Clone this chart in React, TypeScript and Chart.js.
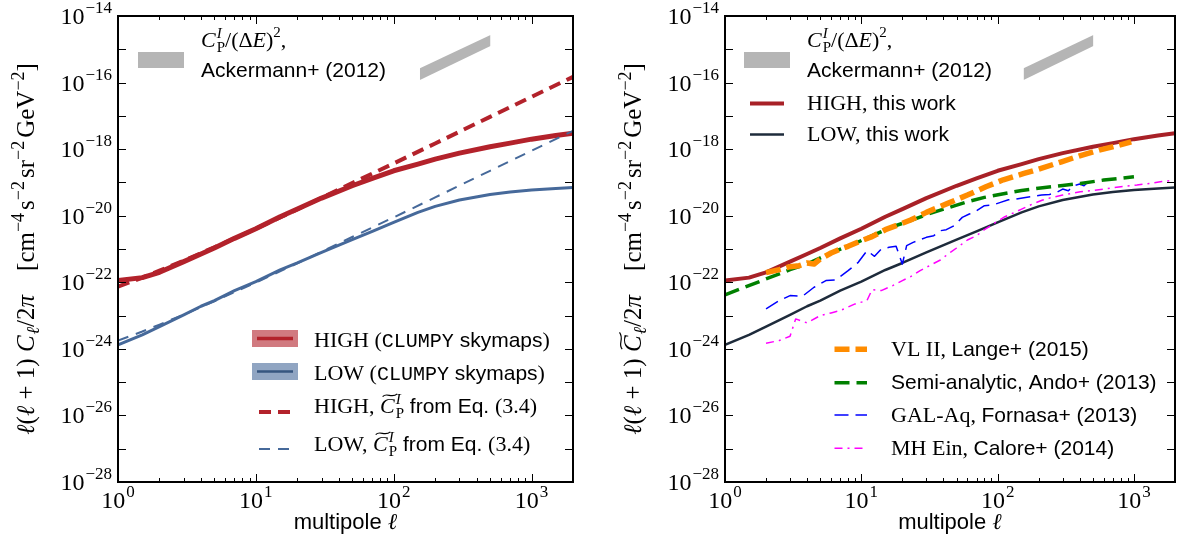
import React, { useEffect, useRef } from "react";
import { Chart, registerables } from "chart.js";

Chart.register(...registerables);

// ---------------- data (log10 of y) ----------------
const X_MIN = 1;
const X_MAX = 2000;
const Y_MIN = 1e-28;
const Y_MAX = 1e-14;
const X_LABEL_EXPONENTS = [0, 1, 2, 3];
const Y_LABEL_EXPONENTS = [-14, -16, -18, -20, -22, -24, -26, -28];

// CLUMPY skymap curves (HIGH / LOW)
const ELL_SKY = [1, 1.5, 2, 3, 4, 5, 7, 10, 15, 20, 30, 50, 70, 100, 150, 200, 300, 500, 700, 1000, 1500, 2000];
const HIGH_SKY_LOG10 = [-21.95, -21.86, -21.7, -21.38, -21.15, -20.97, -20.68, -20.39, -20.03, -19.8, -19.47, -19.1, -18.88, -18.65, -18.45, -18.3, -18.12, -17.93, -17.82, -17.7, -17.59, -17.52];
const LOW_SKY_LOG10 = [-23.88, -23.58, -23.33, -22.98, -22.72, -22.55, -22.25, -21.98, -21.63, -21.42, -21.1, -20.72, -20.47, -20.2, -19.9, -19.72, -19.53, -19.36, -19.29, -19.23, -19.18, -19.15];

// Poisson term from Eq. (3.4)
const ELL_POISSON = [1, 1.5, 2, 3, 5, 10, 20, 50, 100, 200, 500, 1000, 2000];
const HIGH_POISSON_LOG10 = [-22.13, -21.86, -21.65, -21.35, -20.95, -20.39, -19.81, -19.02, -18.43, -17.83, -17.03, -16.43, -15.83];
const LOW_POISSON_LOG10 = [-23.75, -23.48, -23.27, -22.97, -22.57, -22.01, -21.43, -20.64, -20.05, -19.45, -18.65, -18.05, -17.45];

// Ackermann+ (2012) band
const ELL_ACK = [155, 504];
const ACK_LOWER_LOG10 = [-15.92, -14.9];
const ACK_UPPER_LOG10 = [-15.57, -14.57];

// VL II, Lange+ (2015)
const ELL_VL2 = [2, 2.5, 3, 3.5, 4, 4.5, 5, 6, 7, 8, 10, 12, 15, 18, 23, 30, 43, 60, 82, 110, 156, 200, 294, 400, 556, 750, 955];
const VL2_LOG10 = [-21.71, -21.62, -21.53, -21.5, -21.42, -21.45, -21.3, -21.12, -21.0, -20.92, -20.75, -20.63, -20.42, -20.3, -20.13, -19.9, -19.63, -19.38, -19.13, -18.92, -18.73, -18.6, -18.38, -18.2, -18.03, -17.9, -17.78];

// Semi-analytic, Ando+ (2013)
const ELL_ANDO = [1, 2, 3, 4, 6, 9, 12, 17, 24, 32, 45, 60, 80, 113, 150, 214, 300, 404, 600, 1000];
const ANDO_LOG10 = [-22.38, -21.9, -21.62, -21.45, -21.12, -20.83, -20.6, -20.33, -20.12, -19.93, -19.74, -19.58, -19.45, -19.33, -19.24, -19.16, -19.09, -19.03, -18.93, -18.83];

// GAL-Aq, Fornasa+ (2013)
const ELL_GALAQ = [2, 2.5, 3, 3.7, 4.5, 5.5, 6.5, 8, 9.5, 11, 12.5, 14, 16, 18, 20, 21.5, 24, 27, 30, 34, 38, 42, 48, 55, 62, 70, 80, 92, 105, 120, 137, 160, 185, 210, 240, 270, 300, 330, 360, 400, 430, 470, 500];
const GALAQ_LOG10 = [-22.8, -22.55, -22.4, -22.42, -22.15, -21.95, -21.93, -21.65, -21.4, -21.05, -21.22, -21.0, -20.95, -20.92, -21.45, -20.9, -20.8, -20.72, -20.65, -20.6, -20.45, -20.42, -20.3, -20.05, -19.95, -19.85, -19.7, -19.68, -19.6, -19.52, -19.5, -19.45, -19.42, -19.38, -19.36, -19.3, -19.2, -19.25, -19.1, -19.05, -19.1, -18.95, -18.9];

// MH Ein, Calore+ (2014)
const ELL_MHEIN = [2, 2.5, 3, 3.3, 4, 5, 6, 7, 9, 11, 12, 14, 17, 20, 23, 27, 30, 38, 45, 50, 60, 70, 80, 95, 113, 130, 150, 180, 214, 250, 300, 350, 404, 500, 600, 800, 1052, 1300, 1600, 2000];
const MHEIN_LOG10 = [-23.83, -23.75, -23.62, -23.1, -23.22, -23.0, -22.92, -22.85, -22.65, -22.55, -22.22, -22.25, -22.1, -21.95, -21.83, -21.65, -21.55, -21.33, -21.1, -20.97, -20.73, -20.6, -20.42, -20.22, -20.03, -19.92, -19.8, -19.65, -19.53, -19.45, -19.38, -19.33, -19.28, -19.24, -19.2, -19.13, -19.08, -19.03, -18.97, -18.93];

// ---------------- styling ----------------
const SERIF = '"Liberation Serif", "DejaVu Serif", serif';
const SANS = '"Liberation Sans", "DejaVu Sans", sans-serif';
const MONO = '"Liberation Mono", "DejaVu Sans Mono", monospace';
const F = (size: number, style = "", fam = SERIF) => `${style} ${size}px ${fam}`.trim();

const RED_L = "#b3222b";
const BLUE_L = "#46699a";
const RED_R = "#a82127";
const NAVY = "#1e2b3b";
const GRAY = "#b5b5b5";
const ORANGE = "#ff8c00";
const GREEN = "#008000";
const BLUE = "#0000ff";
const MAGENTA = "#ff00ff";

const toPts = (ell: number[], lg: number[]) => ell.map((x, i) => ({ x, y: Math.pow(10, lg[i]) }));

function lineDs(data: any[], color: string, width: number, dash: number[], order: number, extra: any = {}) {
  return {
    data,
    borderColor: color,
    backgroundColor: color,
    borderWidth: width,
    borderDash: dash,
    borderCapStyle: "butt",
    borderJoinStyle: "round",
    pointRadius: 0,
    pointHoverRadius: 0,
    fill: false,
    tension: 0,
    order,
    ...extra,
  };
}

function ackDatasets(order: number) {
  return [
    lineDs(toPts(ELL_ACK, ACK_LOWER_LOG10), GRAY, 0, [], order),
    lineDs(toPts(ELL_ACK, ACK_UPPER_LOG10), GRAY, 0, [], order, { fill: "-1", backgroundColor: GRAY }),
  ];
}

// ---------------- rich text ----------------
type Seg = { t: string; f: string; dy?: number; same?: boolean; tilde?: boolean; pre?: number; post?: number };

function drawRich(ctx: CanvasRenderingContext2D, x: number, y: number, segs: Seg[], align: "left" | "center" | "right" = "left") {
  let cursor = 0;
  let prevStart = 0;
  const items: { s: Seg; x: number; w: number }[] = [];
  for (const s of segs) {
    ctx.font = s.f;
    const w = ctx.measureText(s.t).width;
    const start = (s.same ? prevStart : cursor) + (s.pre || 0);
    items.push({ s, x: start, w });
    cursor = Math.max(cursor, start + w + (s.post || 0));
    prevStart = start;
  }
  const x0 = align === "left" ? x : align === "right" ? x - cursor : x - cursor / 2;
  ctx.save();
  ctx.fillStyle = "#000";
  ctx.strokeStyle = "#000";
  ctx.textBaseline = "alphabetic";
  ctx.textAlign = "left";
  for (const it of items) {
    ctx.font = it.s.f;
    const yy = y + (it.s.dy || 0);
    ctx.fillText(it.s.t, x0 + it.x, yy);
    if (it.s.tilde) {
      const size = parseFloat(it.s.f.replace(/^[a-z ]*/, ""));
      const ty = yy - size * 0.8;
      const ax = x0 + it.x + size * 0.12;
      const w = it.w;
      ctx.beginPath();
      ctx.lineWidth = 1.2;
      ctx.moveTo(ax, ty + 1.2);
      ctx.bezierCurveTo(ax + w * 0.3, ty - 3.5, ax + w * 0.6, ty + 3.5, ax + w, ty - 1.5);
      ctx.stroke();
    }
  }
  ctx.restore();
}

const cpSegs = (tilde: boolean, big = 22, small = 15): Seg[] => [
  { t: "C", f: F(big, "italic"), tilde },
  { t: "P", f: F(small), dy: 5, pre: 1 },
  { t: "I", f: F(small, "italic"), dy: -9, same: true, post: 1 },
];

function hline(ctx: CanvasRenderingContext2D, x1: number, x2: number, y: number, color: string, w: number, dash: number[] = []) {
  ctx.save();
  ctx.beginPath();
  ctx.setLineDash(dash);
  ctx.strokeStyle = color;
  ctx.lineWidth = w;
  ctx.lineCap = "butt";
  ctx.moveTo(x1, y);
  ctx.lineTo(x2, y);
  ctx.stroke();
  ctx.restore();
}

function drawAxes(chart: any, tilde: boolean) {
  const ctx: CanvasRenderingContext2D = chart.ctx;
  const { left, right, top, bottom } = chart.chartArea;
  const xs = chart.scales.x;
  const ys = chart.scales.y;
  ctx.save();
  ctx.strokeStyle = "#000";
  ctx.lineWidth = 1;
  ctx.beginPath();
  for (let d = 0; d <= 3; d++) {
    for (let m = 1; m <= 9; m++) {
      const v = m * Math.pow(10, d);
      if (v >= X_MAX || v <= X_MIN) continue;
      const px = Math.round(xs.getPixelForValue(v)) + 0.5;
      const len = m === 1 ? 8 : 4;
      ctx.moveTo(px, bottom);
      ctx.lineTo(px, bottom - len);
      ctx.moveTo(px, top);
      ctx.lineTo(px, top + len);
    }
  }
  for (let e = -27; e <= -15; e++) {
    const py = Math.round(ys.getPixelForValue(Math.pow(10, e))) + 0.5;
    ctx.moveTo(left, py);
    ctx.lineTo(left + 8, py);
    ctx.moveTo(right, py);
    ctx.lineTo(right - 8, py);
  }
  ctx.stroke();
  ctx.lineWidth = 2;
  ctx.strokeRect(left, top, right - left, bottom - top);
  ctx.restore();

  for (const e of Y_LABEL_EXPONENTS) {
    const py = ys.getPixelForValue(Math.pow(10, e));
    drawRich(ctx, left - 6, py + 8, [
      { t: "10", f: F(24) },
      { t: "\u2212" + String(-e), f: F(17), dy: -11, pre: 1 },
    ], "right");
  }
  for (const e of X_LABEL_EXPONENTS) {
    const px = xs.getPixelForValue(Math.pow(10, e));
    drawRich(ctx, px, bottom + 26, [
      { t: "10", f: F(24) },
      { t: String(e), f: F(17), dy: -11, pre: 1 },
    ], "center");
  }
  drawRich(ctx, (left + right) / 2, bottom + 47, [
    { t: "multipole ", f: F(22, "", SANS) },
    { t: "\u2113", f: F(23, "italic") },
  ], "center");

  // rotated y title
  ctx.save();
  ctx.translate(left - 84, (top + bottom) / 2);
  ctx.rotate(-Math.PI / 2);
  const T = 25;
  const S = 18;
  drawRich(ctx, 0, 0, [
    { t: "\u2113", f: F(T, "italic") },
    { t: "(", f: F(T) },
    { t: "\u2113", f: F(T, "italic") },
    { t: " + 1) ", f: F(T) },
    { t: "C", f: F(T, "italic"), tilde },
    { t: "\u2113", f: F(S, "italic"), dy: 5, pre: 1 },
    { t: "/2", f: F(T) },
    { t: "\u03c0", f: F(T, "italic"), post: 24 },
    { t: "[cm", f: F(T) },
    { t: "\u22124", f: F(S), dy: -10, post: 3 },
    { t: "s", f: F(T) },
    { t: "\u22122", f: F(S), dy: -10, post: 3 },
    { t: "sr", f: F(T) },
    { t: "\u22122", f: F(S), dy: -10, post: 3 },
    { t: "GeV", f: F(T) },
    { t: "\u22122", f: F(S), dy: -10 },
    { t: "]", f: F(T) },
  ], "center");
  ctx.restore();
}

function drawAckLegend(ctx: CanvasRenderingContext2D, px: number, tx: number) {
  ctx.save();
  ctx.fillStyle = GRAY;
  ctx.fillRect(px, 52, 46, 16);
  ctx.restore();
  drawRich(ctx, tx, 47, [
    ...cpSegs(false),
    { t: "/(\u0394", f: F(22) },
    { t: "E", f: F(22, "italic") },
    { t: ")", f: F(22) },
    { t: "2", f: F(15), dy: -10 },
    { t: ",", f: F(22) },
  ]);
  drawRich(ctx, tx, 77, [{ t: "Ackermann+ (2012)", f: F(21, "", SANS) }]);
}

const leftDecor = {
  id: "decorLeft",
  afterDraw(chart: any) {
    const ctx: CanvasRenderingContext2D = chart.ctx;
    drawAxes(chart, false);
    drawAckLegend(ctx, 138, 201);
    // bottom-right legend
    ctx.save();
    ctx.fillStyle = "rgba(179,34,43,0.6)";
    ctx.fillRect(252, 330, 46, 17);
    ctx.fillStyle = "rgba(70,105,154,0.6)";
    ctx.fillRect(252, 363, 46, 17);
    ctx.restore();
    hline(ctx, 257, 293, 338.5, RED_L, 3.5);
    hline(ctx, 257, 293, 371.5, "#36567f", 2.5);
    hline(ctx, 259, 291, 412, RED_L, 4, [12, 7]);
    hline(ctx, 259, 291, 449, BLUE_L, 2, [11, 8]);
    const tx = 314;
    drawRich(ctx, tx, 347, [
      { t: "HIGH (", f: F(22) },
      { t: "CLUMPY", f: F(20, "", MONO) },
      { t: " skymaps", f: F(21, "", SANS) },
      { t: ")", f: F(22) },
    ]);
    drawRich(ctx, tx, 380, [
      { t: "LOW (", f: F(22) },
      { t: "CLUMPY", f: F(20, "", MONO) },
      { t: " skymaps", f: F(21, "", SANS) },
      { t: ")", f: F(22) },
    ]);
    drawRich(ctx, tx, 413, [
      { t: "HIGH, ", f: F(22) },
      ...cpSegs(true),
      { t: " from Eq. ", f: F(21, "", SANS) },
      { t: "(3.4)", f: F(22) },
    ]);
    drawRich(ctx, tx, 451, [
      { t: "LOW, ", f: F(22) },
      ...cpSegs(true),
      { t: " from Eq. ", f: F(21, "", SANS) },
      { t: "(3.4)", f: F(22) },
    ]);
  },
};

const rightDecor = {
  id: "decorRight",
  afterDraw(chart: any) {
    const ctx: CanvasRenderingContext2D = chart.ctx;
    drawAxes(chart, true);
    drawAckLegend(ctx, 154, 217);
    hline(ctx, 160, 194, 103.5, RED_R, 4);
    hline(ctx, 160, 194, 134.5, NAVY, 2.5);
    drawRich(ctx, 217, 110, [{ t: "HIGH, ", f: F(22) }, { t: "this work", f: F(21, "", SANS) }]);
    drawRich(ctx, 217, 141, [{ t: "LOW, ", f: F(22) }, { t: "this work", f: F(21, "", SANS) }]);
    const hx1 = 244.5;
    const hx2 = 277;
    hline(ctx, hx1, hx2, 349.3, ORANGE, 5.5, [15, 6]);
    hline(ctx, hx1, hx2, 382.7, GREEN, 3.5, [15, 7]);
    hline(ctx, hx1, hx2, 415, BLUE, 1.5, [14, 7]);
    hline(ctx, hx1, hx2, 448.3, MAGENTA, 1.5, [8, 5, 2, 5]);
    const tx = 301;
    drawRich(ctx, tx, 356, [{ t: "VL II, ", f: F(22) }, { t: "Lange+ (2015)", f: F(21, "", SANS) }]);
    drawRich(ctx, tx, 389, [{ t: "Semi-analytic, Ando+ (2013)", f: F(21, "", SANS) }]);
    drawRich(ctx, tx, 422, [{ t: "GAL-Aq, ", f: F(22) }, { t: "Fornasa+ (2013)", f: F(21, "", SANS) }]);
    drawRich(ctx, tx, 455, [{ t: "MH Ein, ", f: F(22) }, { t: "Calore+ (2014)", f: F(21, "", SANS) }]);
  },
};

function baseOptions(padLeft: number, padRight: number): any {
  return {
    responsive: false,
    animation: false,
    events: [],
    layout: { padding: { left: padLeft, right: padRight, top: 16, bottom: 0 } },
    plugins: { legend: { display: false }, tooltip: { enabled: false } },
    scales: {
      x: {
        type: "logarithmic",
        min: X_MIN,
        max: X_MAX,
        ticks: { display: false },
        grid: { display: false },
        border: { display: false },
        afterFit: (s: any) => {
          s.height = 60;
        },
      },
      y: {
        type: "logarithmic",
        min: Y_MIN,
        max: Y_MAX,
        ticks: { display: false },
        grid: { display: false },
        border: { display: false },
        afterFit: (s: any) => {
          s.width = 118;
        },
      },
    },
  };
}

function leftConfig(): any {
  return {
    type: "line",
    data: {
      datasets: [
        ...ackDatasets(10),
        lineDs(toPts(ELL_SKY, HIGH_SKY_LOG10), RED_L, 5, [], 6),
        lineDs(toPts(ELL_SKY, LOW_SKY_LOG10), BLUE_L, 3, [], 6),
        lineDs(toPts(ELL_POISSON, HIGH_POISSON_LOG10), RED_L, 4, [12, 7], 2),
        lineDs(toPts(ELL_POISSON, LOW_POISSON_LOG10), BLUE_L, 2, [11, 8], 2),
      ],
    },
    options: baseOptions(0, 17),
    plugins: [leftDecor],
  };
}

function rightConfig(): any {
  return {
    type: "line",
    data: {
      datasets: [
        ...ackDatasets(10),
        lineDs(toPts(ELL_SKY, HIGH_SKY_LOG10), RED_R, 4, [], 8),
        lineDs(toPts(ELL_SKY, LOW_SKY_LOG10), NAVY, 2.5, [], 8),
        lineDs(toPts(ELL_MHEIN, MHEIN_LOG10), MAGENTA, 1.5, [8, 5, 2, 5], 5),
        lineDs(toPts(ELL_GALAQ, GALAQ_LOG10), BLUE, 1.5, [14, 7], 4),
        lineDs(toPts(ELL_ANDO, ANDO_LOG10), GREEN, 3.5, [15, 7], 3),
        lineDs(toPts(ELL_VL2, VL2_LOG10), ORANGE, 5.5, [15, 6], 2),
      ],
    },
    options: baseOptions(17, 5),
    plugins: [rightDecor],
  };
}

export default function App() {
  const lRef = useRef<HTMLCanvasElement>(null);
  const rRef = useRef<HTMLCanvasElement>(null);
  useEffect(() => {
    const a = new Chart(lRef.current as HTMLCanvasElement, leftConfig());
    const b = new Chart(rRef.current as HTMLCanvasElement, rightConfig());
    return () => {
      a.destroy();
      b.destroy();
    };
  }, []);
  return (
    <div style={{ position: "fixed", left: 0, top: 0, width: 1180, height: 542, background: "#fff" }}>
      <canvas ref={lRef} width={590} height={542} style={{ position: "absolute", left: 0, top: 0, width: 590, height: 542 }} />
      <canvas ref={rRef} width={590} height={542} style={{ position: "absolute", left: 590, top: 0, width: 590, height: 542 }} />
    </div>
  );
}
